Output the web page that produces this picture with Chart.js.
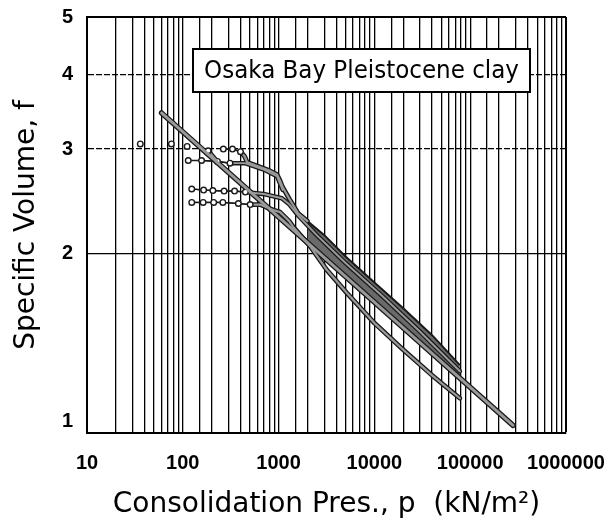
<!DOCTYPE html>
<html>
<head>
<meta charset="utf-8">
<script src="https://cdn.jsdelivr.net/npm/chart.js@4.4.1/dist/chart.umd.min.js"></script>
<style>
  html, body { margin: 0; padding: 0; background: #fff; }
  #wrap { width: 613px; height: 525px; }
</style>
</head>
<body>
<div id="wrap"><canvas id="chart" width="613" height="525"></canvas></div>
<script>
// Normal consolidation line (straight on log-log axes)
const nclP = [60, 280000];
const nclV = [3.45, 1.03];

// Oedometer test curves: consolidation pressure p (kN/m2) vs specific volume f
const curveAP = [36, 76, 111, 184, 230];
const curveAV = [3.06, 3.06, 3.03, 2.98, 2.86];

const curveBP = [265, 330, 400, 440, 470, 600, 800, 960, 1030, 1100, 1300, 1600, 2000];
const curveBV = [3.00, 3.00, 2.97, 2.92, 2.85, 2.81, 2.76, 2.72, 2.66, 2.59, 2.47, 2.34, 2.27];

const curveCP = [114, 157, 230, 311, 444, 700, 960, 1100];
const curveCV = [2.87, 2.87, 2.86, 2.84, 2.84, 2.77, 2.70, 2.56];

const curveDP = [124, 165, 206, 270, 347, 450, 550, 700, 880, 1080, 1300, 1600, 2500, 5000, 12000, 30000, 78000];
const curveDV = [2.57, 2.56, 2.555, 2.55, 2.55, 2.54, 2.53, 2.52, 2.50, 2.48, 2.42, 2.32, 2.15, 1.93, 1.70, 1.48, 1.27];

const curveEP = [124, 163, 210, 262, 380, 505, 640, 880, 1035, 1290, 1420, 2130, 3180, 5140, 10000, 20000, 40000, 78000];
const curveEV = [2.44, 2.44, 2.44, 2.44, 2.43, 2.42, 2.42, 2.37, 2.35, 2.27, 2.22, 2.06, 1.88, 1.72, 1.53, 1.38, 1.25, 1.144];

// Upper envelope of the overlapping compression curves
const bandTopP = [2000, 3000, 5000, 10000, 20000, 40000, 78000];
const bandTopV = [2.27, 2.15, 1.98, 1.79, 1.62, 1.46, 1.30];

// Number of plateau points carrying a marker on each curve
const markerCounts = { A: 4, B: 3, C: 4, D: 6, E: 6 };

// Axis ticks
const xMin = 10, xMax = 1000000;
const yTicks = [1, 2, 3, 4, 5];

const OUTLINE = '#1a1a1a';
const CORE = '#9a9a9a';
const BAND = '#6a6a6a';
const NONE = 'rgba(0,0,0,0)';

const toPoints = (ps, vs) => ps.map((p, i) => ({ x: p, y: vs[i] }));

const datasets = [];

// Each curve is stroked twice: a dark wide edge and a grey core on top.
// The plateau part (before yielding) is drawn thin, or left as markers only.
function addLine(label, ps, vs, width, markers, plateauLine = true) {
  const pts = toPoints(ps, vs);
  const thin = (ctx) => ctx.p0DataIndex < markers - 1;
  datasets.push({
    label: label + ' edge', data: pts, fill: false,
    borderColor: OUTLINE, borderWidth: width + 2.6,
    borderJoinStyle: 'round', borderCapStyle: 'round',
    segment: {
      borderWidth: (ctx) => (thin(ctx) ? 1.6 : undefined),
      borderColor: (ctx) => (thin(ctx) && !plateauLine ? NONE : undefined)
    },
    pointRadius: 0, order: 30
  });
  datasets.push({
    label: label, data: pts, fill: false,
    borderColor: CORE, borderWidth: width,
    borderJoinStyle: 'round', borderCapStyle: 'round',
    segment: {
      borderWidth: (ctx) => (thin(ctx) ? 1.2 : undefined),
      borderColor: (ctx) => (thin(ctx) ? (plateauLine ? OUTLINE : NONE) : undefined)
    },
    pointRadius: ps.map((_, i) => (i < markers ? 2.8 : 0)),
    pointBackgroundColor: '#ffffff', pointBorderColor: OUTLINE, pointBorderWidth: 1.4,
    order: 10
  });
}

addLine('NCL', nclP, nclV, 2.8, 0);        // indices 0,1
datasets.push({
  label: 'envelope', data: toPoints(bandTopP, bandTopV),
  fill: 0, backgroundColor: BAND,
  borderColor: OUTLINE, borderWidth: 2, pointRadius: 0, order: 40
});
addLine('A', curveAP, curveAV, 1.8, markerCounts.A, false);
addLine('B', curveBP, curveBV, 2.2, markerCounts.B);
addLine('C', curveCP, curveCV, 1.8, markerCounts.C);
addLine('D', curveDP, curveDV, 2.0, markerCounts.D);
addLine('E', curveEP, curveEV, 2.2, markerCounts.E);

// Labelled box inside the plot
const labelBox = {
  id: 'labelBox',
  afterDatasetsDraw(chart) {
    const { ctx, chartArea } = chart;
    const x = chartArea.left + 106, y = chartArea.top + 32, w = 337, h = 43;
    ctx.save();
    ctx.fillStyle = '#ffffff';
    ctx.fillRect(x, y, w, h);
    ctx.strokeStyle = '#000';
    ctx.lineWidth = 2;
    ctx.strokeRect(x, y, w, h);
    const text = 'Osaka Bay Pleistocene clay';
    const fam = "'DejaVu Sans Condensed', 'DejaVu Sans', sans-serif";
    ctx.font = '25px ' + fam;
    const size = 25 * 315 / ctx.measureText(text).width;
    ctx.font = size.toFixed(2) + 'px ' + fam;
    ctx.fillStyle = '#000';
    ctx.textAlign = 'center';
    ctx.textBaseline = 'middle';
    ctx.fillText(text, x + w / 2, y + h / 2 + 1);
    ctx.restore();
  }
};

const tickFont = { family: "'Liberation Sans', Arial, sans-serif", size: 20, weight: 'bold' };

new Chart(document.getElementById('chart'), {
  type: 'line',
  data: { datasets },
  options: {
    responsive: false,
    animation: false,
    devicePixelRatio: 1,
    layout: { padding: { top: 17, right: 47, left: 0, bottom: 0 } },
    plugins: { legend: { display: false }, tooltip: { enabled: false }, title: { display: false } },
    scales: {
      x: {
        type: 'logarithmic', min: xMin, max: xMax,
        afterFit(scale) {
          scale.height = 92;
          scale.paddingLeft = 0;
          scale.paddingRight = 0;
        },
        grid: {
          color: '#000', drawTicks: false,
          lineWidth: (c) => (c.tick && c.tick.value === xMax ? 2 : 1.3)
        },
        border: { display: true, color: '#000', width: 2 },
        ticks: {
          autoSkip: false, maxRotation: 0, padding: 18, color: '#000', font: tickFont,
          callback(v) {
            const e = Math.log10(v);
            return Math.abs(e - Math.round(e)) < 1e-9 ? String(v) : '';
          }
        },
        title: {
          display: true, text: 'Consolidation Pres., p  (kN/m\u00B2)', color: '#000',
          font: { family: "'DejaVu Sans', sans-serif", size: 28 },
          padding: { top: 0, bottom: 3 }
        }
      },
      y: {
        type: 'logarithmic', min: yTicks[0], max: yTicks[yTicks.length - 1],
        afterFit(scale) {
          scale.width = 87;
          scale.paddingTop = 0;
          scale.paddingBottom = 0;
        },
        afterBuildTicks(scale) { scale.ticks = yTicks.map(v => ({ value: v })); },
        grid: {
          color: '#000', drawTicks: false,
          lineWidth: (c) => (c.tick && c.tick.value === yTicks[yTicks.length - 1] ? 2 : 1.3)
        },
        border: {
          display: true, color: '#000', width: 2,
          dash: (c) => (c.tick && (c.tick.value === 3 || c.tick.value === 4) ? [6, 2] : [])
        },
        ticks: {
          padding: 14, color: '#000', font: tickFont,
          // the bottom label sits raised above the frame line
          callback(v) { return v === yTicks[0] ? [String(v), ''] : String(v); }
        },
        title: {
          display: true, text: 'Specific Volume, f', color: '#000',
          font: { family: "'DejaVu Sans', sans-serif", size: 28 },
          padding: { top: 10, bottom: 0 }
        }
      }
    }
  },
  plugins: [labelBox]
});
</script>
</body>
</html>
